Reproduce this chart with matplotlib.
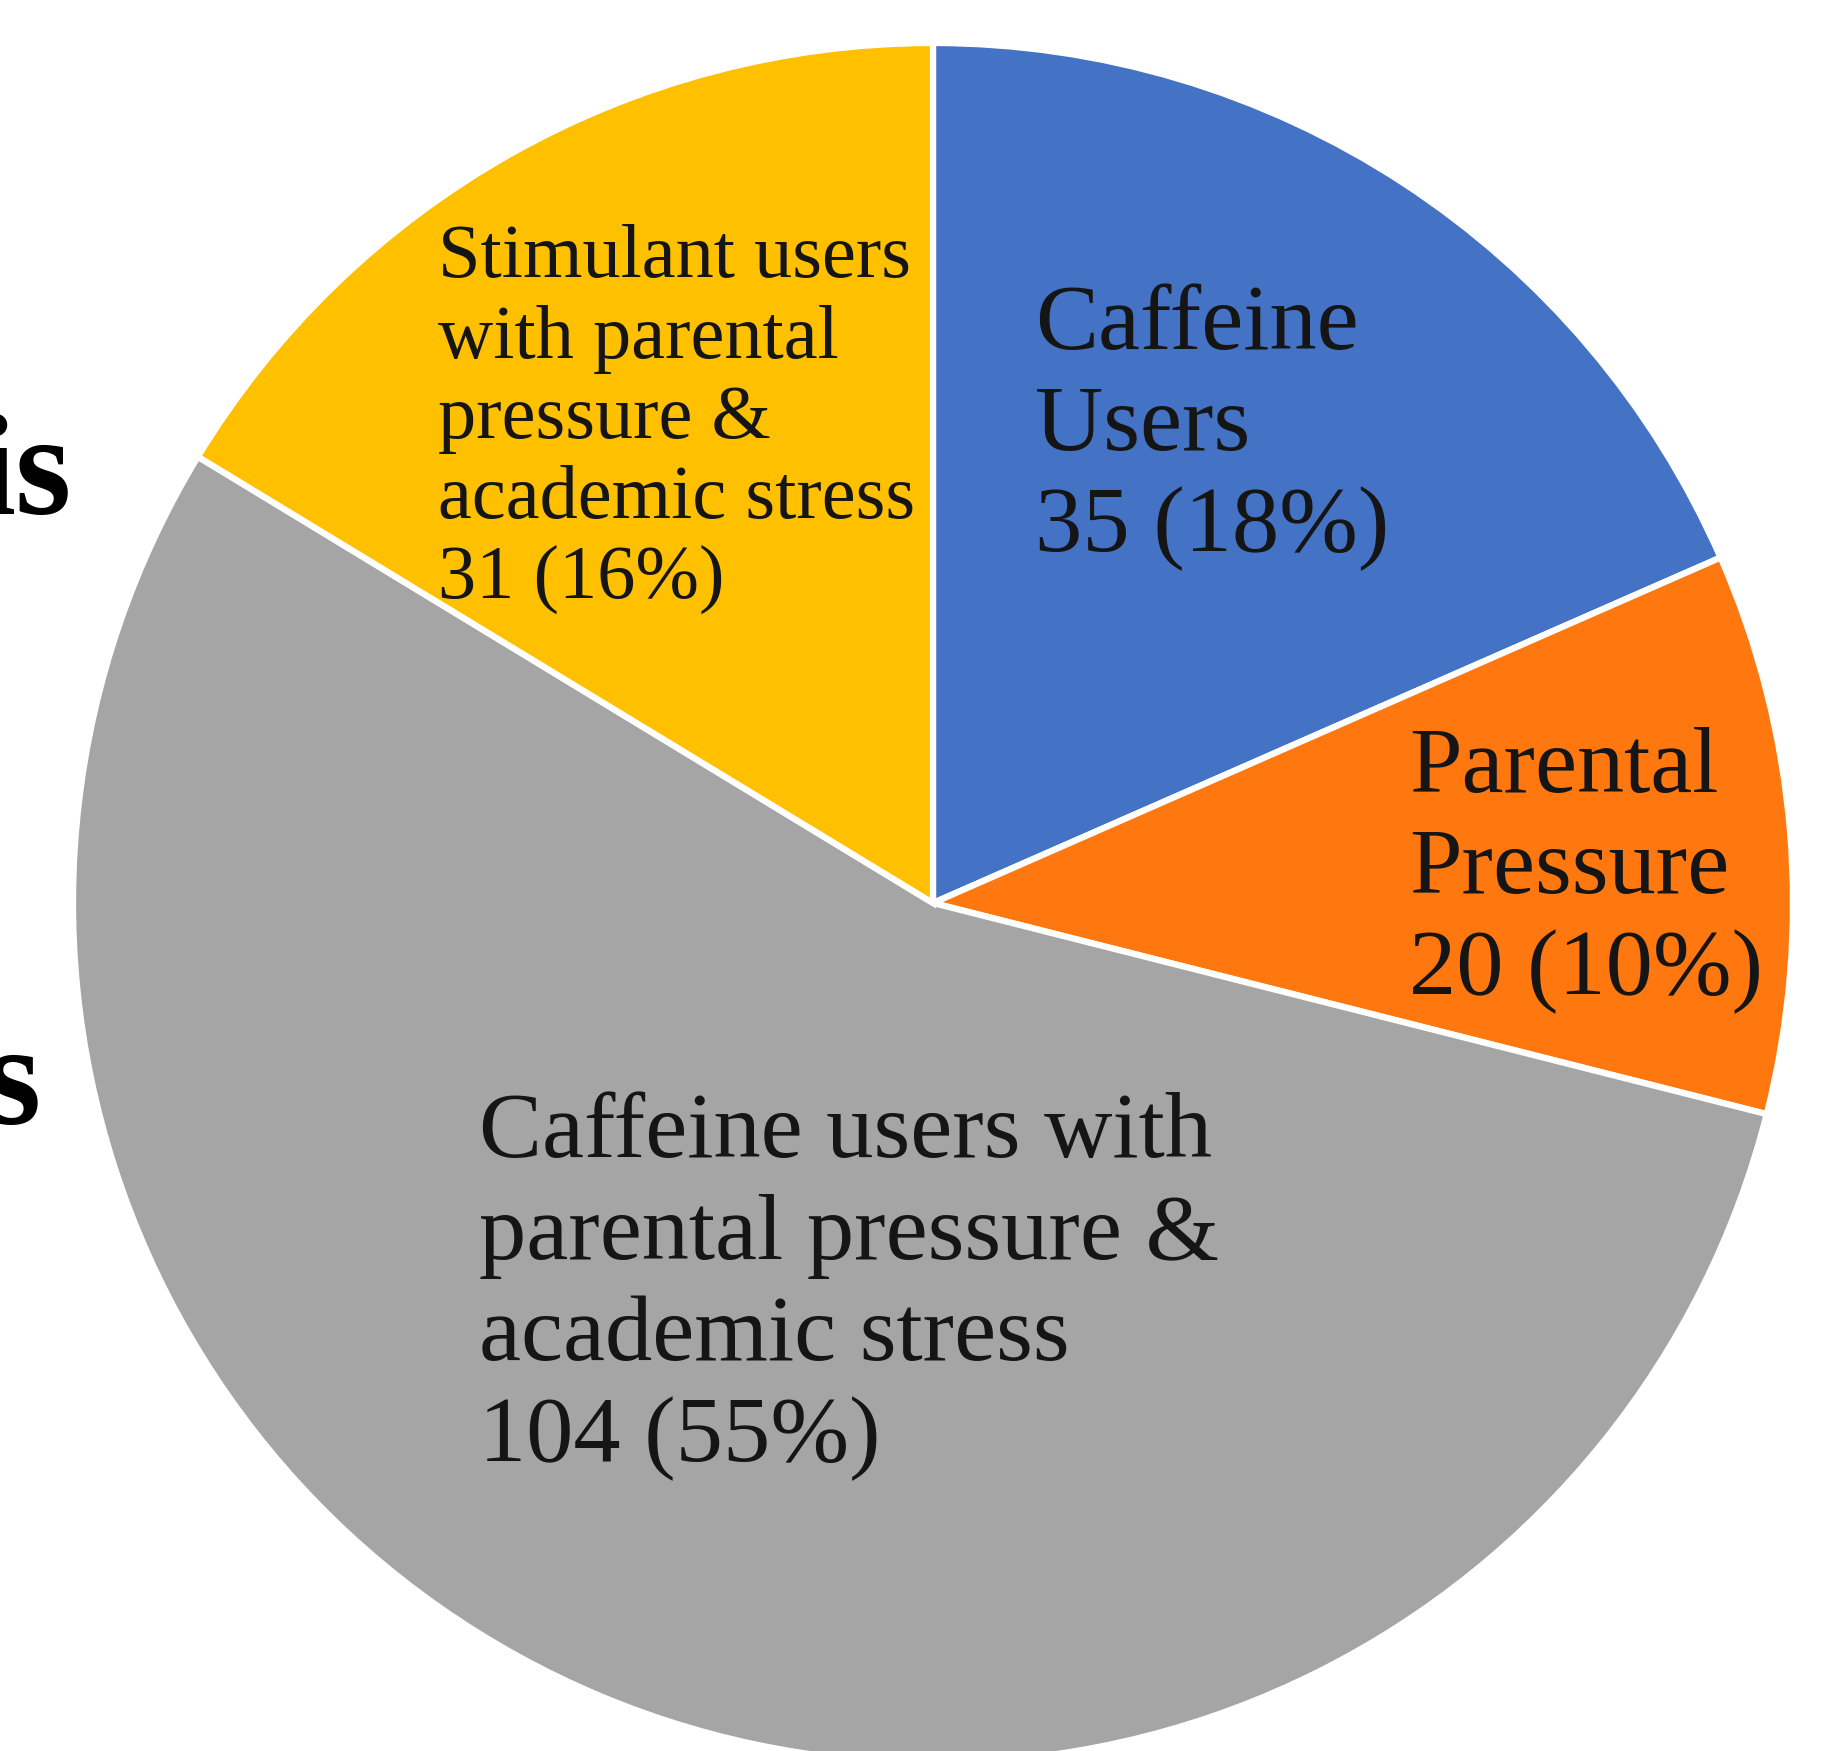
import matplotlib
matplotlib.use("Agg")
import matplotlib.pyplot as plt

# data
categories = ["Caffeine\nUsers",
              "Parental\nPressure",
              "Caffeine users with\nparental pressure &\nacademic stress",
              "Stimulant users\nwith parental\npressure &\nacademic stress"]
counts = [35, 20, 104, 31]
percents = [18, 10, 55, 16]
colors = ["#4472C4", "#FF780F", "#A5A5A5", "#FFC000"]

# figure in pixel units (dpi 100)
W, H = 1833, 1751
fig = plt.figure(figsize=(W / 100, H / 100), dpi=100)
ax = fig.add_axes([0, 0, 1, 1])

# pie centre / radius in pixels (y measured from top of picture)
cx, cy, r = 933, 903, 860
ax.pie(counts, colors=colors, startangle=90, counterclock=False,
       center=(cx, H - cy), radius=r,
       wedgeprops=dict(edgecolor="white", linewidth=4.5))
ax.set_xlim(0, W)
ax.set_ylim(0, H)
ax.set_aspect("auto")
ax.axis("off")

# label layout: left x, baseline of the last line, font size, line spacing
label_pos = [(1035, 551, 68, 1.25), (1409, 994, 68, 1.25),
             (479, 1461, 68, 1.25), (438, 598, 55, 1.21)]

for name, n, p, (lx, ly, fs, ls) in zip(categories, counts, percents, label_pos):
    ax.text(lx, H - ly, f"{name}\n{n} ({p}%)", ha="left", va="baseline",
            fontsize=fs, family="Liberation Serif", color="#151515",
            linespacing=ls)

# slide text that is cut off at the left edge in the original
ax.text(72, H - 514, "is", ha="right", va="baseline", fontsize=104,
        family="Liberation Serif", fontweight="bold", color="black")
ax.text(41, H - 1124, "s", ha="right", va="baseline", fontsize=104,
        family="Liberation Serif", fontweight="bold", color="black")

fig.savefig("out.png", dpi=100, facecolor="white")
